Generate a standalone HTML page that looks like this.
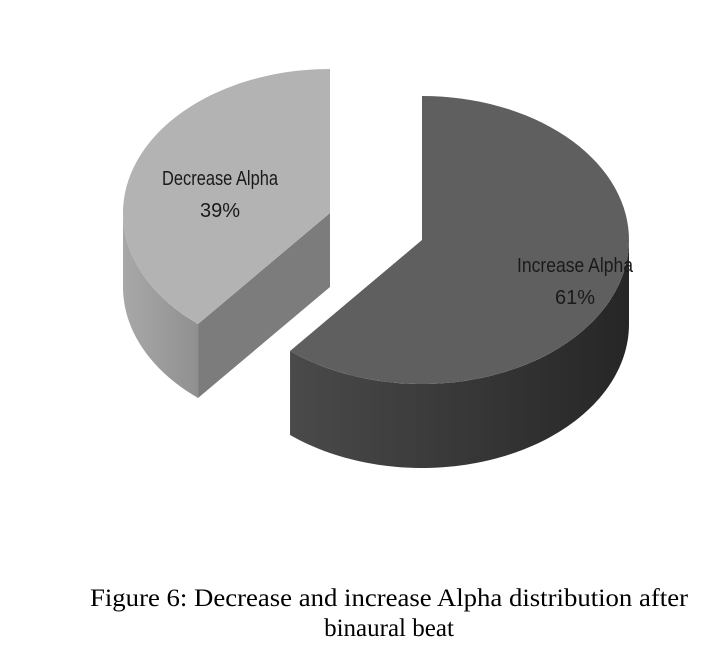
<!DOCTYPE html>
<html><head><meta charset="utf-8"><style>
body{margin:0;background:#fff;width:724px;height:672px;overflow:hidden}
svg{display:block}
</style></head><body>
<svg id="chart" width="724" height="672" viewBox="0 0 724 672">
<defs>
<linearGradient id="darkSide" x1="0" x2="1" y1="0" y2="0"><stop offset="0" stop-color="#4a4a4a"/><stop offset="1" stop-color="#262626"/></linearGradient>
<linearGradient id="lightSide" x1="0" x2="1" y1="0" y2="0"><stop offset="0" stop-color="#a8a8a8"/><stop offset="1" stop-color="#909090"/></linearGradient>
</defs>
<g id="pie"></g>
<text x="389" y="606" text-anchor="middle" font-family="Liberation Serif, serif" font-size="25" textLength="598" lengthAdjust="spacingAndGlyphs" fill="#000">Figure 6: Decrease and increase Alpha distribution after</text>
<text x="389" y="636" text-anchor="middle" font-family="Liberation Serif, serif" font-size="25" fill="#000">binaural beat</text>
</svg>
<script>
const categories = ["Increase Alpha", "Decrease Alpha"];
const values = [61, 39];
const NS = "http://www.w3.org/2000/svg";
const cx = 422, cy = 240, rx = 207, ry = 144;
const depths = [84, 74];
const explode = [[0, 0], [-92, -27]];
const topFill = ["#5f5f5f", "#b3b3b3"];
const sideFill = ["url(#darkSide)", "url(#lightSide)"];
const cutFill = ["#3a3a3a", "#7c7c7c"];
const labelPos = [[575, 272], [220, 185]];
const g = document.getElementById("pie");
function pt(a, ox, oy, dz) { return [cx + ox + rx * Math.sin(a), cy + oy - ry * Math.cos(a) + (dz || 0)]; }
function path(d, fill, name) {
  const p = document.createElementNS(NS, "path");
  p.setAttribute("d", d); p.setAttribute("fill", fill);
  
  
  g.appendChild(p);
}
const total = values.reduce((a, b) => a + b, 0);
let start = 0;
const slices = values.map((v, i) => { const s = start; start += v / total * 2 * Math.PI; return { i, s, e: start }; });
[1, 0].forEach(i => {
  const { s, e } = slices[i];
  const [ox, oy] = explode[i];
  const depth = depths[i];
  const N = 80;
  const vs = Math.max(s, Math.PI / 2), ve = Math.min(e, 3 * Math.PI / 2);
  if (ve > vs) {
    let d = "";
    for (let k = 0; k <= N; k++) { const a = vs + (ve - vs) * k / N; const p = pt(a, ox, oy); d += (k ? "L" : "M") + p[0] + "," + p[1]; }
    for (let k = N; k >= 0; k--) { const a = vs + (ve - vs) * k / N; const p = pt(a, ox, oy, depth); d += "L" + p[0] + "," + p[1]; }
    path(d + "Z", sideFill[i], "side-" + categories[i].toLowerCase().replace(/ /g, "-"));
  }
  if (i === 1) {
    const c0 = [cx + ox, cy + oy], p = pt(s, ox, oy);
    const d = `M${c0[0]},${c0[1]}L${p[0]},${p[1]}L${p[0]},${p[1] + depth}L${c0[0]},${c0[1] + depth}Z`;
    path(d, cutFill[i], "cut-face-" + categories[i].toLowerCase().replace(/ /g, "-"));
  }
  let d = `M${cx + ox},${cy + oy}`;
  for (let k = 0; k <= N; k++) { const a = s + (e - s) * k / N; const p = pt(a, ox, oy); d += "L" + p[0] + "," + p[1]; }
  path(d + "Z", topFill[i], "slice-" + categories[i].toLowerCase().replace(/ /g, "-"));
  [categories[i], values[i] + "%"].forEach((t, j) => {
    const tx = document.createElementNS(NS, "text");
    tx.setAttribute("x", labelPos[i][0]); tx.setAttribute("y", labelPos[i][1] + j * 32);
    tx.setAttribute("text-anchor", "middle");
    tx.setAttribute("font-family", "Liberation Sans Narrow, Liberation Sans, sans-serif");
    tx.setAttribute("font-size", "20"); tx.setAttribute("fill", "#1a1a1a");
    if (j === 0) { tx.setAttribute("textLength", "116"); tx.setAttribute("lengthAdjust", "spacingAndGlyphs"); }
    tx.textContent = t;
    
    
    g.appendChild(tx);
  });
});
</script>
</body></html>
